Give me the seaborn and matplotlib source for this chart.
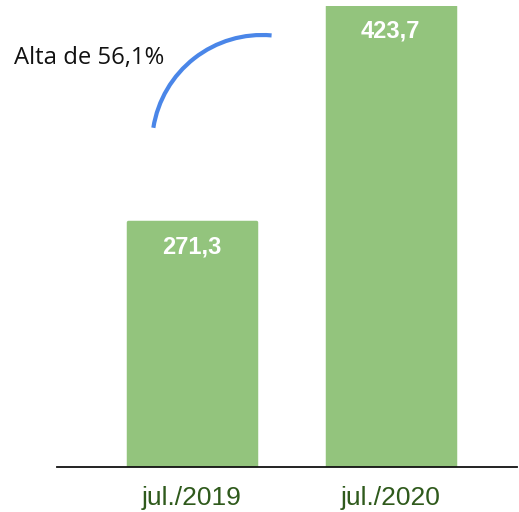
import matplotlib
matplotlib.use("Agg")
import matplotlib.pyplot as plt
import seaborn as sns
import pandas as pd
from matplotlib.patches import Arc

# Data
periods = ['jul./2019', 'jul./2020']
values = [271.3, 423.7]
value_labels = ['271,3', '423,7']
note = 'Alta de 56,1%'

df = pd.DataFrame({'period': periods, 'value': values})

sns.set_theme(style='white')
plt.rcParams['font.family'] = ['Liberation Sans', 'DejaVu Sans']

fig = plt.figure(figsize=(5.19, 5.12), dpi=100)
ax = fig.add_axes([57 / 519, 45 / 512, 460 / 519, 461 / 512])

sns.barplot(data=df, x='period', y='value', color='#93c47d', saturation=1,
            width=0.645, ax=ax)
# slightly rounded corners
for p in ax.patches:
    p.set_edgecolor('#93c47d')
    p.set_linewidth(2.5)
    p.set_joinstyle('round')

ax.set_xlim(-0.68, 1.637)
ax.set_ylim(98.7, 423.7)
ax.set_xlabel('')
ax.set_ylabel('')
ax.set_yticks([])
ax.tick_params(axis='x', length=0, pad=14, labelsize=19, labelcolor='#2f5a1c')
for s in ['top', 'left', 'right']:
    ax.spines[s].set_visible(False)
ax.spines['bottom'].set_color('#111111')
ax.spines['bottom'].set_linewidth(1.3)
ax.spines['bottom'].set_zorder(5)

# value labels inside the bars
for i, (v, lab) in enumerate(zip(values, value_labels)):
    ax.annotate(lab, (i, v), xytext=(0, -18), textcoords='offset points',
                ha='center', va='center', color='white', fontsize=17,
                fontweight='bold')

# annotation with blue arc
over = fig.add_axes([0, 0, 1, 1])
over.set_xlim(0, 519)
over.set_ylim(0, 512)
over.axis('off')
over.patch.set_alpha(0)
over.add_patch(Arc((262, 512 - 145), 220, 220, theta1=85, theta2=171,
                   color='#4a86e8', lw=3))
over.text(14, 512 - 58, note, fontsize=17.2, family=['Open Sans', 'DejaVu Sans'],
          color='#111111', va='center', ha='left')

fig.savefig('out.png', dpi=100)
